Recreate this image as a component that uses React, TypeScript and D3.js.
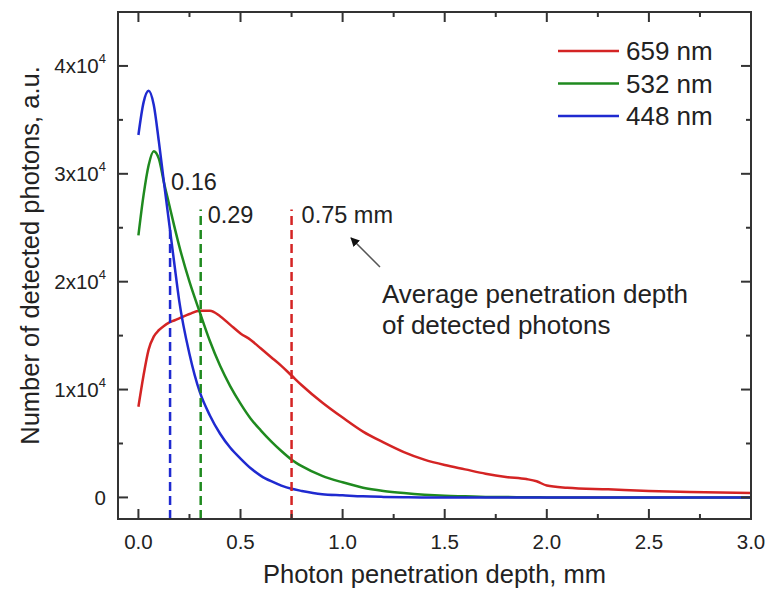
import React from "react";
import * as d3 from "d3";

// depth grid shared by the three curves (mm)
const depth = [0, 0.025, 0.05, 0.075, 0.1, 0.125, 0.15, 0.175, 0.2, 0.25, 0.3, 0.35, 0.4, 0.45, 0.5, 0.55, 0.6, 0.65, 0.7, 0.75, 0.8, 0.9, 1.0, 1.1, 1.2, 1.3, 1.4, 1.5, 1.6, 1.7, 1.8, 1.9, 1.95, 2.0, 2.1, 2.3, 2.5, 2.7, 3.0];

// counts in units of 1e4
const red659 = [0.84, 1.13, 1.37, 1.49, 1.55, 1.59, 1.62, 1.64, 1.66, 1.7, 1.73, 1.73, 1.68, 1.6, 1.52, 1.46, 1.38, 1.3, 1.22, 1.13, 1.04, 0.88, 0.74, 0.61, 0.51, 0.42, 0.35, 0.3, 0.26, 0.22, 0.19, 0.17, 0.15, 0.11, 0.09, 0.075, 0.06, 0.05, 0.04];
const green532 = [2.43, 2.8, 3.08, 3.21, 3.14, 2.92, 2.72, 2.52, 2.33, 2.0, 1.72, 1.45, 1.22, 1.03, 0.87, 0.73, 0.62, 0.52, 0.43, 0.35, 0.29, 0.2, 0.14, 0.09, 0.06, 0.04, 0.025, 0.015, 0.01, 0.005, 0.003, 0.002, 0.001, 0, 0, 0, 0, 0, 0];
const blue448 = [3.36, 3.66, 3.77, 3.64, 3.3, 2.92, 2.55, 2.18, 1.82, 1.33, 0.98, 0.76, 0.59, 0.46, 0.36, 0.27, 0.2, 0.15, 0.11, 0.08, 0.06, 0.03, 0.02, 0.01, 0.005, 0.002, 0, 0, 0, 0, 0, 0, 0, 0, 0, 0, 0, 0, 0];

const seriesNames = ["659 nm", "532 nm", "448 nm"];
const seriesColors = ["#d42424", "#1f8a1f", "#1f2ad0"];

// average penetration depth markers
const markerDepth = [0.155, 0.305, 0.75];
const markerTop = [25000, 26700, 26700];
const markerLabels = ["0.16", "0.29", "0.75 mm"];
const markerColors = ["#1f2ad0", "#1f8a1f", "#d42424"];

const xTicks = [0, 0.5, 1.0, 1.5, 2.0, 2.5, 3.0];
const yTicks = [0, 1e4, 2e4, 3e4, 4e4];

const W = 768;
const H = 599;
const margin = { top: 12, right: 17, bottom: 80, left: 118 };
const font = "'Liberation Sans', Arial, sans-serif";

export default function App() {
  const x = d3.scaleLinear().domain([-0.1, 3.0]).range([margin.left, W - margin.right]);
  const y = d3.scaleLinear().domain([-2000, 45000]).range([H - margin.bottom, margin.top]);

  const line = d3
    .line<number>()
    .x((_, i) => x(depth[i]))
    .y((v) => y(v * 1e4))
    .curve(d3.curveMonotoneX);

  const allSeries = [red659, green532, blue448];
  const x0 = x.range()[0], x1 = x.range()[1];
  const y0 = y.range()[0], y1 = y.range()[1];

  const xMinor = d3.range(0.25, 3, 0.5);
  const yMinor = d3.range(5000, 45000, 10000);

  return (
    <svg width={W} height={H} style={{ position: "absolute", left: 0, top: 0, background: "#fff" }} fontFamily={font}>
      {/* curves */}
      {allSeries.map((s, i) => (
        <path key={i} d={line(s) || ""} fill="none" stroke={seriesColors[i]} strokeWidth={2.5} />
      ))}

      {/* dashed depth markers */}
      {markerDepth.map((d, i) => (
        <line key={i} x1={x(d)} x2={x(d)} y1={y(-2000)} y2={y(markerTop[i])} stroke={markerColors[i]} strokeWidth={2.5} strokeDasharray="9,5" />
      ))}
      <text x={x(0.155) + 1} y={190} fontSize={23.5} fill="#222">{markerLabels[0]}</text>
      <text x={x(0.305) + 7} y={223} fontSize={23.5} fill="#222">{markerLabels[1]}</text>
      <text x={x(0.75) + 10} y={223} fontSize={23.5} fill="#222">{markerLabels[2]}</text>

      {/* arrow + note */}
      <defs>
        <marker id="ah" viewBox="0 0 10 10" refX="9" refY="5" markerWidth="6" markerHeight="6" orient="auto">
          <path d="M0,0 L10,5 L0,10 z" fill="#111" />
        </marker>
      </defs>
      <line x1={380} y1={267} x2={351} y2={238} stroke="#555" strokeWidth={1.5} markerEnd="url(#ah)" />
      <text x={382} y={303} fontSize={26} fill="#222">Average penetration depth</text>
      <text x={382} y={334} fontSize={26} fill="#222">of detected photons</text>

      {/* frame */}
      <rect x={x0} y={y1} width={x1 - x0} height={y0 - y1} fill="none" stroke="#333" strokeWidth={2} />

      {/* x ticks, bottom and top, inward */}
      {xTicks.map((t) => (
        <g key={"xt" + t}>
          <line x1={x(t)} x2={x(t)} y1={y0} y2={y0 - 10} stroke="#333" strokeWidth={2} />
          <line x1={x(t)} x2={x(t)} y1={y1} y2={y1 + 10} stroke="#333" strokeWidth={2} />
          <text x={x(t)} y={549} fontSize={20.5} textAnchor="middle" fill="#222">{t.toFixed(1)}</text>
        </g>
      ))}
      {xMinor.map((t) => (
        <g key={"xm" + t}>
          <line x1={x(t)} x2={x(t)} y1={y0} y2={y0 - 5} stroke="#333" strokeWidth={2} />
          <line x1={x(t)} x2={x(t)} y1={y1} y2={y1 + 5} stroke="#333" strokeWidth={2} />
        </g>
      ))}

      {/* y ticks, left and right, inward */}
      {yTicks.map((t) => (
        <g key={"yt" + t}>
          <line x1={x0} x2={x0 + 10} y1={y(t)} y2={y(t)} stroke="#333" strokeWidth={2} />
          <line x1={x1} x2={x1 - 10} y1={y(t)} y2={y(t)} stroke="#333" strokeWidth={2} />
          {t === 0 ? (
            <text x={106} y={y(t) + 7.5} fontSize={20.5} textAnchor="end" fill="#222">0</text>
          ) : (
            <text x={106} y={y(t) + 7.5} fontSize={20.5} textAnchor="end" fill="#222">
              {`${t / 1e4}x10`}
              <tspan fontSize={13} dy={-10}>4</tspan>
            </text>
          )}
        </g>
      ))}
      {yMinor.map((t) => (
        <g key={"ym" + t}>
          <line x1={x0} x2={x0 + 5} y1={y(t)} y2={y(t)} stroke="#333" strokeWidth={2} />
          <line x1={x1} x2={x1 - 5} y1={y(t)} y2={y(t)} stroke="#333" strokeWidth={2} />
        </g>
      ))}

      {/* axis titles */}
      <text x={(x0 + x1) / 2} y={583} fontSize={25.5} textAnchor="middle" fill="#222">Photon penetration depth, mm</text>
      <text transform={`translate(39,${(y0 + y1) / 2 - 10}) rotate(-90)`} fontSize={25.5} textAnchor="middle" fill="#222">
        Number of detected photons, a.u.
      </text>

      {/* legend */}
      {seriesNames.map((n, i) => (
        <g key={n} transform={`translate(558,${51 + i * 32.5})`}>
          <line x1={0} x2={61} y1={0} y2={0} stroke={seriesColors[i]} strokeWidth={2.5} />
          <text x={68} y={0} dy="0.36em" fontSize={26} fill="#222">{n}</text>
        </g>
      ))}
    </svg>
  );
}
